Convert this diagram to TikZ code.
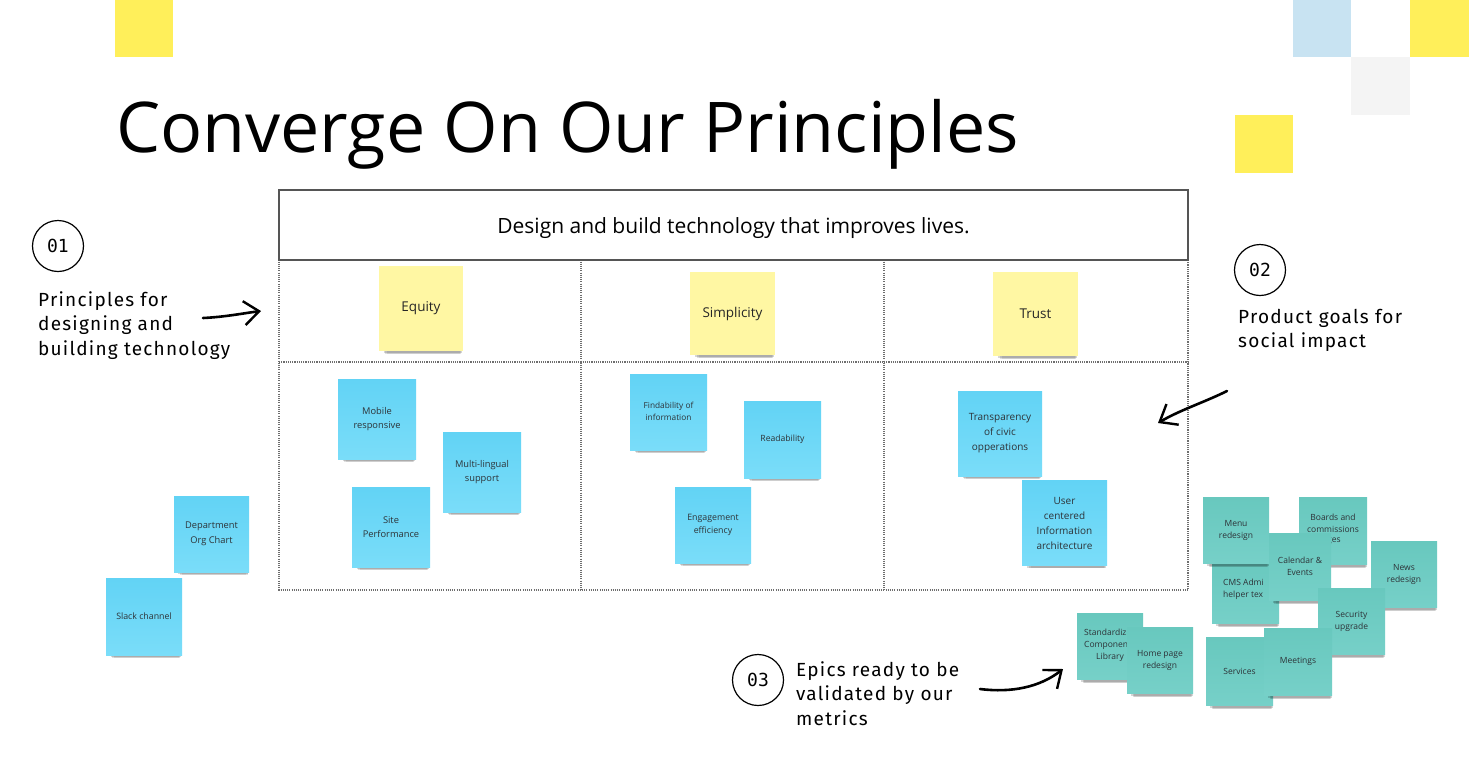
\documentclass[tikz,border=0pt]{standalone}
\usepackage{fontspec}
\setmainfont{Open Sans}
\newfontfamily\monof{DejaVu Sans Mono}
\newfontfamily\labf[LetterSpace=6.5]{Fira Sans}
\usetikzlibrary{shadows,arrows.meta}
\definecolor{sqyellow}{RGB}{255,239,90}
\definecolor{sqblue}{RGB}{200,227,242}
\definecolor{sqgray}{RGB}{244,244,244}
\definecolor{stkyellow}{RGB}{255,247,163}
\definecolor{stkbluetop}{RGB}{98,211,245}
\definecolor{stkbluebot}{RGB}{122,221,249}
\definecolor{stktealtop}{RGB}{104,200,190}
\definecolor{stktealbot}{RGB}{118,208,200}
\definecolor{framegray}{RGB}{85,85,85}
\definecolor{dotgray}{RGB}{110,110,110}
\definecolor{stktext}{RGB}{45,50,55}
\tikzset{
  stickybase/.style={inner sep=1pt, align=center, text=stktext,
    general shadow={fill=black, opacity=0.08, shadow yshift=-10pt, shadow xshift=3pt, shadow scale=0.86},
    general shadow={fill=black, opacity=0.12, shadow yshift=-8pt, shadow xshift=2.5pt, shadow scale=0.9},
    general shadow={fill=black, opacity=0.16, shadow yshift=-5.5pt, shadow xshift=2pt, shadow scale=0.93}},
  ystk/.style={stickybase, fill=stkyellow, text=black!85, font=\fontsize{13.5}{17}\selectfont},
  bstk/.style={stickybase, top color=stkbluetop, bottom color=stkbluebot, font=\fontsize{9.3}{14.5}\selectfont},
  tstk/.style={stickybase, top color=stktealtop, bottom color=stktealbot, font=\fontsize{8.5}{12}\selectfont},
  tlab/.style={inner sep=0, align=center, text=stktext, font=\fontsize{8.5}{12}\selectfont},
  numcirc/.style={circle, draw=black, line width=1.2pt, minimum size=51pt, inner sep=0, font=\monof\fontsize{18}{18}\selectfont},
  sidelab/.style={anchor=north west, align=left, inner sep=0, font=\labf\fontsize{19}{24.5}\selectfont},
  griddot/.style={draw=dotgray, line width=1.1pt, dash pattern=on 1.1pt off 1.1pt},
  handarrow/.style={line width=2.6pt, line cap=round, -{Straight Barb[length=15pt,width=24pt,line width=2.4pt]}}
}
\begin{document}
\begin{tikzpicture}[x=1pt,y=-1pt]
\useasboundingbox[fill=white] (0,0) rectangle (1469,766);
% decorative squares
\fill[sqyellow] (115,0) rectangle (173,57);
\fill[sqblue] (1293,0) rectangle (1351,57);
\fill[sqyellow] (1410,0) rectangle (1469,57);
\fill[sqgray] (1351,57) rectangle (1410,115);
\fill[sqyellow] (1235,115) rectangle (1293,173);
% title
\node[anchor=base west, inner sep=0, font=\fontsize{70}{74}\selectfont] (title) at (116,152) {Converge On Our Principles};
% header box
\node[draw=framegray, line width=2.6pt, minimum width=909pt, minimum height=70pt, inner sep=0] (header) at (733.5,225) {};
\node[inner sep=0, font=\fontsize{21}{24}\selectfont, anchor=base] (headertext) at (733.5,233) {Design and build technology that improves lives.};
% grid
\draw[griddot] (279,261.5) -- (279,590) -- (1188,590) -- (1188,261.5);
\draw[griddot] (279,362) -- (1188,362);
\draw[griddot] (581,261.5) -- (581,590);
\draw[griddot] (884,261.5) -- (884,590);
% yellow principle stickies
\node[ystk, minimum width=84pt, minimum height=85pt] (equity) at (421,308.5) {Equity};
\node[ystk, minimum width=85pt, minimum height=83pt] (simp) at (732.5,313.5) {Simplicity};
\node[ystk, minimum width=85pt, minimum height=84pt] (trust) at (1035.5,314) {Trust};
% blue goal stickies
\node[bstk, minimum width=78pt, minimum height=80pt] (mobile) at (377,419) {Mobile\\responsive};
\node[bstk, minimum width=78pt, minimum height=80pt] (multi) at (482,472) {Multi-lingual\\support};
\node[bstk, minimum width=78pt, minimum height=80pt] (site) at (391,527) {Site\\Performance};
\node[bstk, minimum width=77pt, minimum height=76pt, font=\fontsize{8.3}{13}\selectfont] (find) at (668.5,412) {\raisebox{3pt}{\begin{tabular}{@{}c@{}}Findability of\\[-1pt]information\end{tabular}}};
\node[bstk, minimum width=77pt, minimum height=77pt, font=\fontsize{8.6}{13}\selectfont] (read) at (782.5,439.5) {Readability};
\node[bstk, minimum width=76pt, minimum height=76pt, font=\fontsize{8.8}{13}\selectfont] (engage) at (713,525) {Engagement\\efficiency};
\node[bstk, minimum width=84pt, minimum height=85pt, font=\fontsize{10}{15}\selectfont] (transp) at (1000,433.5) {Transparency\\of civic\\opperations};
\node[bstk, minimum width=85pt, minimum height=85pt, font=\fontsize{10}{15}\selectfont] (usercent) at (1064.5,523) {User\\centered\\Information\\architecture};
\node[bstk, minimum width=75pt, minimum height=76pt] (dept) at (211.5,534) {Department\\Org Chart};
\node[bstk, minimum width=76pt, minimum height=77pt, font=\fontsize{8.8}{13}\selectfont] (slack) at (144,616.5) {Slack channel};
% teal epic stickies
\node[tstk, minimum width=68pt, minimum height=67pt] (boards) at (1333,530.5) {};
\node[tlab, anchor=north] (boardst) at (1333,514) {Boards and\\commissions};
\node[tlab, anchor=north west] (boardsg) at (1327,538) {ges};
\node[tstk, minimum width=67pt, minimum height=66pt] (cms) at (1245.5,590) {};
\node[tlab, anchor=north west, align=left] (cmst) at (1223,579) {CMS Admi\\helper tex};
\node[tstk, minimum width=66pt, minimum height=66pt] (menu) at (1236,530) {Menu\\redesign};
\node[tstk, minimum width=62pt, minimum height=67pt] (cal) at (1300,566.5) {Calendar \&\\Events};
\node[tstk, minimum width=66pt, minimum height=66pt] (news) at (1404,574) {News\\redesign};
\node[tstk, minimum width=67pt, minimum height=66pt] (secur) at (1351.5,621) {Security\\upgrade};
\node[tstk, minimum width=67pt, minimum height=68pt] (serv) at (1239.5,671) {Services};
\node[tstk, minimum width=68pt, minimum height=67pt] (meet) at (1298,661.5) {Meetings};
\node[tstk, minimum width=66pt, minimum height=66pt] (stdz) at (1110,646) {};
\node[tlab, anchor=north west, align=left] (stdzt) at (1084,629) {Standardiz\\Componen};
\node[tlab, anchor=north] (stdzl) at (1110,653) {Library};
\node[tstk, minimum width=66pt, minimum height=66pt] (home) at (1160,660) {Home page\\redesign};
% numbered circles and labels
\node[numcirc] (c1) at (58,246) {01};
\node[sidelab] (lab1) at (38,291) {Principles for\\designing and\\building technology};
\node[numcirc] (c2) at (1260,270) {02};
\node[sidelab] (lab2) at (1238,309) {Product goals for\\social impact};
\node[numcirc] (c3) at (758,680) {03};
\node[sidelab] (lab3) at (796,661) {Epics ready to be\\validated by our\\metrics};
% hand-drawn arrows
\coordinate (a1s) at (203,318);
\coordinate (a1t) at (261,311);
\draw[handarrow] (a1s) .. controls (225,317) and (245,313) .. (a1t);
\coordinate (a2s) at (1227,391);
\coordinate (a2t) at (1158,423);
\draw[handarrow] (a2s) .. controls (1205,402) and (1180,410) .. (a2t);
\coordinate (a3s) at (980,689);
\coordinate (a3t) at (1063,669);
\draw[handarrow] (a3s) .. controls (1012,693) and (1040,687) .. (a3t);
\end{tikzpicture}
\end{document}
